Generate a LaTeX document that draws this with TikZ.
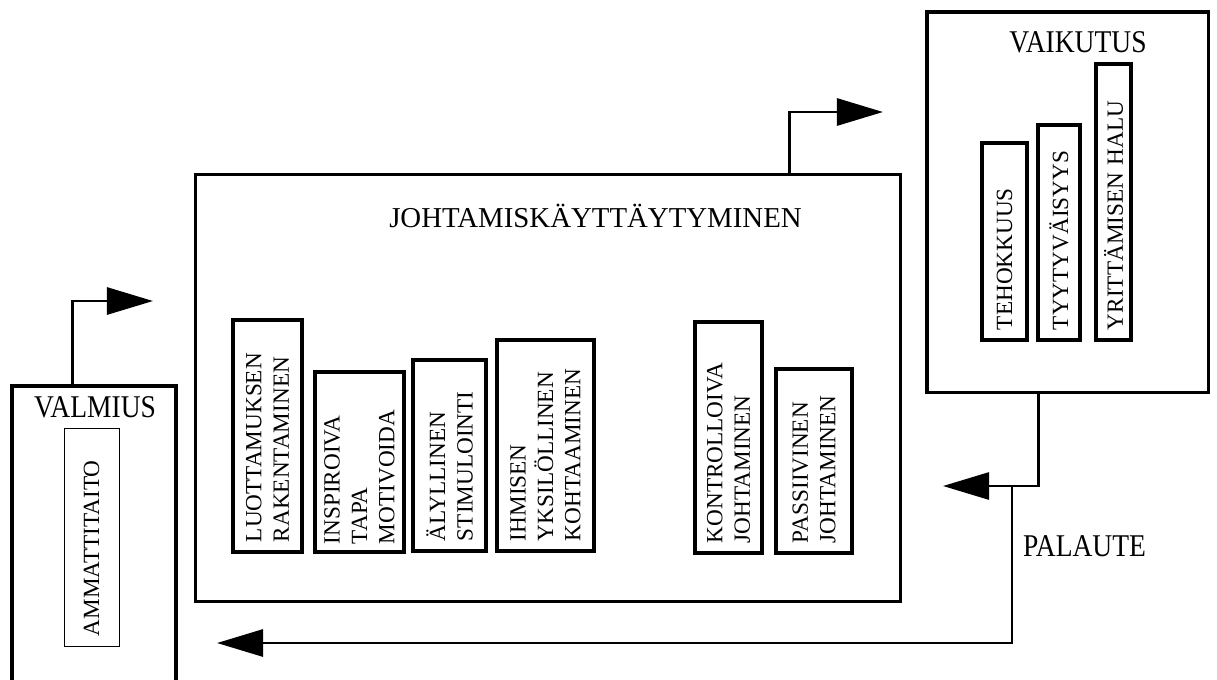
\documentclass[tikz,border=0pt]{standalone}
\usepackage{fontspec}
\setmainfont{Liberation Serif}
\newfontfamily\narrowserif[FakeStretch=0.87]{Liberation Serif}
\usepackage{tikz}
\usetikzlibrary{arrows.meta, calc}
\tikzset{
	x=0.025cm, y=-0.025cm, % one unit is one pixel, y runs downwards
	frame/.style={draw, line width=2.2pt, inner sep=0pt}, % the three big boxes
	item/.style={draw, line width=2.2pt, rotate=90, inner sep=0pt, align=left, font=\fontsize{16.5}{19.5}\selectfont}, % upright boxes, text reads upwards
	title/.style={anchor=base, font=\narrowserif\fontsize{22.5}{26}\selectfont}, % box headings
	flow/.style={line width=2pt, -{Triangle[length=1.15cm, width=0.675cm]}}, % the arrows
}
\begin{document}
\begin{tikzpicture}
	\useasboundingbox (0,0) rectangle (1217,679);
	% the three main boxes
	\node[frame, minimum width=4.1cm, minimum height=8.35cm] (valmius) at (94,553) {};
	\node[frame, minimum width=17.6cm, minimum height=10.65cm] (johtamis) at (548,388) {};
	\node[frame, minimum width=7.025cm, minimum height=9.5cm] (vaikutus) at (1067.5,202) {};
	\node[title] (valmiust) at (95,417) {VALMIUS};
	\node[title, font=\fontsize{20.5}{24}\selectfont] (johtamist) at (595.5,227) {JOHTAMISKÄYTTÄYTYMINEN};
	\node[title] (vaikutust) at (1078,52) {VAIKUTUS};
	\node[title] (palaute) at (1084.5,556) {PALAUTE};
	% contents
	\node[item, line width=0.7pt, minimum width=5.425cm, minimum height=1.375cm, text width=4.925cm] (ammatti) at (91.5,537.5) {AMMATTITAITO};
	\node[item, minimum width=5.8cm, minimum height=1.725cm, text width=5.3cm] (luottamus) at (267.5,436) {LUOTTAMUKSEN\\RAKENTAMINEN};
	\node[item, minimum width=4.5cm, minimum height=2.225cm, text width=4.1cm] (inspiroiva) at (359.5,462) {INSPIROIVA\\TAPA\\MOTIVOIDA};
	\node[item, minimum width=4.775cm, minimum height=1.825cm, text width=4.275cm] (alyllinen) at (449.5,455.5) {ÄLYLLINEN\\STIMULOINTI};
	\node[item, minimum width=5.275cm, minimum height=2.425cm, text width=4.775cm] (ihmisen) at (545.5,445.5) {IHMISEN\\YKSILÖLLINEN\\KOHTAAMINEN};
	\node[item, minimum width=5.775cm, minimum height=1.675cm, text width=5.275cm] (kontrolloiva) at (728.5,437.5) {KONTROLLOIVA\\JOHTAMINEN};
	\node[item, minimum width=4.6cm, minimum height=1.9cm, text width=4.1cm] (passiivinen) at (814,461) {PASSIIVINEN\\JOHTAMINEN};
	\node[item, minimum width=4.925cm, minimum height=1.125cm, text width=4.425cm] (tehokkuus) at (1004.5,241.5) {TEHOKKUUS};
	\node[item, minimum width=5.375cm, minimum height=1.05cm, text width=4.875cm] (tyytyvaisyys) at (1059,232.5) {TYYTYVÄISYYS};
	\node[item, minimum width=6.9cm, minimum height=0.875cm, text width=6.4cm] (yrittamisen) at (1113.5,202) {YRITTÄMISEN HALU};
	% free ends of the arrows
	\coordinate (valmiusout) at (153,301);
	\coordinate (johtamisout) at (883,112);
	\coordinate (palautein) at (943,486);
	\coordinate (haara) at (1012,486);
	\coordinate (palauteback) at (217,643);
	\draw[flow] (valmius.north west) ++(62,0) |- (valmiusout);
	\draw[flow] (johtamis.north west) ++(595,0) |- (johtamisout);
	\draw[flow] (vaikutus.south west) ++(113,0) |- (palautein);
	\draw[flow] (haara) |- (palauteback);
\end{tikzpicture}
\end{document}
